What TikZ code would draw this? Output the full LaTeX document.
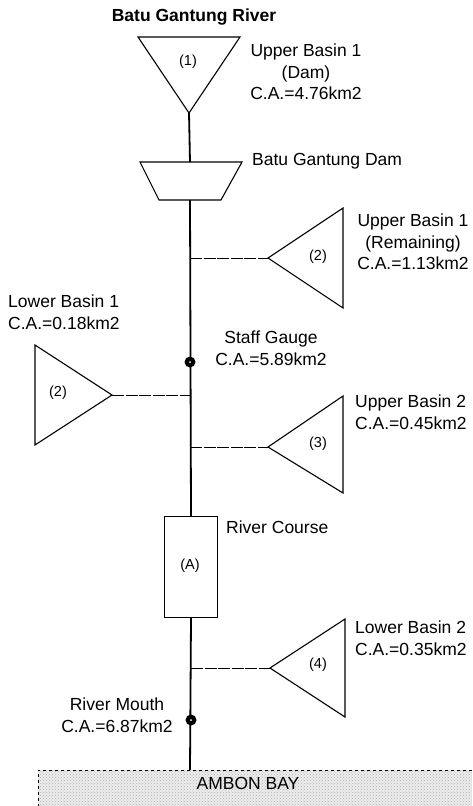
\documentclass[tikz,border=0pt]{standalone}
\usepackage{fontspec}
\setmainfont{Liberation Sans}
\usetikzlibrary{patterns}

\begin{document}
\begin{tikzpicture}[x=1pt, y=-1pt,
    river/.style={line width=1.8pt},
    branch/.style={line width=0.8pt, dash pattern=on 12pt off 1.5pt},
    basin/.style={line width=1.1pt, line join=miter},
    lbl/.style={font=\fontsize{17.5}{21.5}\selectfont, align=center, inner sep=0pt},
    tag/.style={font=\fontsize{14.5}{16}\selectfont, inner sep=0pt}]
    \useasboundingbox (0,0) rectangle (472,806);
    % ambon bay
    \fill[gray!15] (38,770) rectangle (472,806);
    \fill[pattern=crosshatch dots, pattern color=gray!60] (38,770) rectangle (472,806);
    \draw[thin, dashed] (472,770) -- (38,770) -- (38,806);
    \node[lbl] (bay) at (248,783) {AMBON BAY};
    \coordinate (baytop) at (190,770);
    % upper basin 1 (dam)
    \node[lbl, font=\bfseries\fontsize{17.5}{21.5}\selectfont] (title) at (194,17) {Batu Gantung River};
    \draw[basin] (138,37) -- (240,37) -- (189,113) -- cycle;
    \coordinate (b1) at (189,113);
    \node[tag] (t1) at (188,62) {(1)};
    \node[lbl] (l1) at (306,72) {Upper Basin 1\\(Dam)\\C.A.=4.76km2};
    % dam
    \draw[basin] (140,162) -- (242,162) -- (221,200) -- (159,200) -- cycle;
    \coordinate (damtop) at (190,162);
    \coordinate (dambot) at (190,200);
    \node[lbl, anchor=west] (ldam) at (252,161) {Batu Gantung Dam};
    % upper basin 1 (remaining)
    \draw[basin] (268,258) -- (343,208) -- (343,308) -- cycle;
    \coordinate (b2) at (268,258);
    \coordinate (j2) at (190,258);
    \node[tag] (t2) at (318,257) {(2)};
    \node[lbl] (l2) at (413,242) {Upper Basin 1\\(Remaining)\\C.A.=1.13km2};
    % lower basin 1
    \draw[basin] (35,345) -- (112,395) -- (35,445) -- cycle;
    \coordinate (b3) at (112,395);
    \coordinate (j3) at (190,395);
    \node[tag] (t3) at (58,393) {(2)};
    \node[lbl, align=left, anchor=west] (l3) at (8,312) {Lower Basin 1\\C.A.=0.18km2};
    % staff gauge
    \coordinate (gauge) at (190,362);
    \node[lbl] (lgauge) at (271,348) {Staff Gauge\\C.A.=5.89km2};
    % upper basin 2
    \draw[basin] (268,447) -- (343,396) -- (343,493) -- cycle;
    \coordinate (b4) at (268,447);
    \coordinate (j4) at (190,447);
    \node[tag] (t4) at (318,444) {(3)};
    \node[lbl, align=left, anchor=west] (l4) at (355,412) {Upper Basin 2\\C.A.=0.45km2};
    % river course
    \node[draw, line width=1.1pt, minimum width=53pt, minimum height=101pt, inner sep=0pt] (course) at (191,567) {};
    \node[tag] (tA) at (190,566) {(A)};
    \node[lbl, anchor=west] (lcourse) at (226,527) {River Course};
    % lower basin 2
    \draw[basin] (270,668) -- (345,619) -- (345,717) -- cycle;
    \coordinate (b5) at (270,668);
    \coordinate (j5) at (191,668);
    \node[tag] (t5) at (318,665) {(4)};
    \node[lbl, align=left, anchor=west] (l5) at (355,638) {Lower Basin 2\\C.A.=0.35km2};
    % river mouth
    \coordinate (mouth) at (191,720);
    \node[lbl] (lmouth) at (117,715) {River Mouth\\C.A.=6.87km2};
    % river line
    \draw[river] (b1) -- (damtop);
    \draw[river] (dambot) -- (course.north);
    \draw[river] (course.south) -- (baytop);
    % tributaries
    \draw[branch] (j2) -- (b2);
    \draw[branch] (b3) -- (j3);
    \draw[branch] (j4) -- (b4);
    \draw[branch] (j5) -- (b5);
    % gauges
    \foreach \p in {gauge, mouth} {
        \fill (\p) circle (5.5);
        \fill[white] (\p) circle (1);
    }
\end{tikzpicture}
\end{document}
